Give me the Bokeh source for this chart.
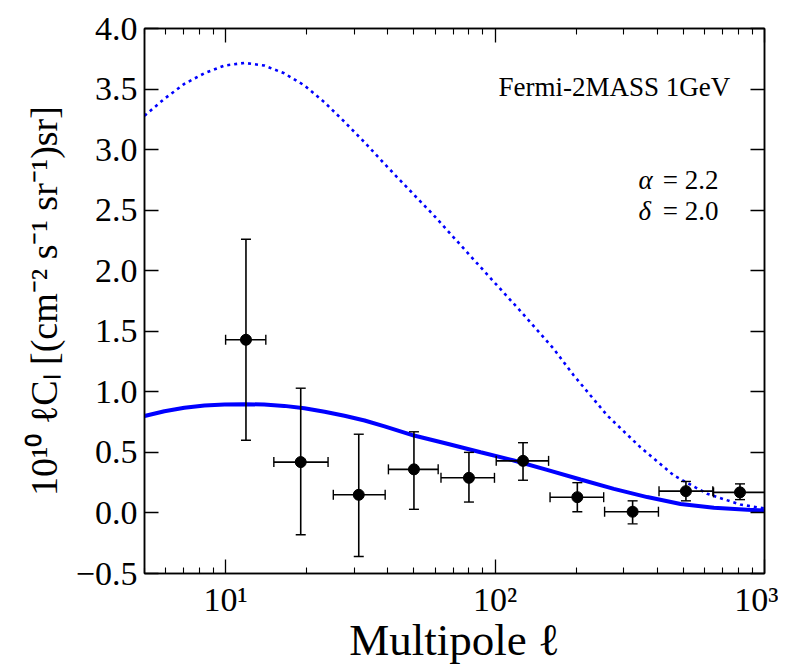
import math
from bokeh.plotting import figure
from bokeh.models import LogAxis, LinearAxis, FixedTicker, Range1d, Label
from bokeh.embed import file_html
from bokeh.resources import INLINE

# ---- data ----
model_ell = [5, 5.93, 7.03, 8.35, 9.91, 11.76, 13.9, 16.5, 19.6, 23.3, 27.6, 32.8, 38.9, 50,
             66.5, 88.4, 117.4, 156, 207.6, 276, 367, 488, 649, 863, 1000]
model_cl = [0.80, 0.84, 0.868, 0.887, 0.895, 0.898, 0.895, 0.884, 0.865, 0.835, 0.802, 0.763, 0.715, 0.639,
            0.571, 0.501, 0.433, 0.356, 0.276, 0.199, 0.131, 0.074, 0.042, 0.026, 0.020]

dot_ell = [5, 5.93, 7.03, 8.35, 9.91, 11.76, 13.9, 16.5, 19.6, 23.3, 27.6, 32.8, 38.6, 43.4, 59.3,
           88.3, 125, 165, 196, 261, 346, 461, 613, 814, 1000]
dot_cl = [3.28, 3.42, 3.543, 3.631, 3.694, 3.716, 3.694, 3.63, 3.53, 3.39, 3.23, 3.06, 2.89, 2.77, 2.456,
          2.03, 1.66, 1.355, 1.135, 0.804, 0.543, 0.309, 0.158, 0.069, 0.037]

pt_ell = [11.9, 19.0, 31.2, 50.0, 80.0, 127, 202, 324, 511, 811]
pt_cl = [1.43, 0.42, 0.15, 0.36, 0.29, 0.43, 0.13, 0.01, 0.18, 0.17]
pt_lo = [0.60, -0.18, -0.36, 0.03, 0.09, 0.27, 0.01, -0.09, 0.10, 0.11]
pt_hi = [2.26, 1.03, 0.65, 0.67, 0.50, 0.58, 0.25, 0.10, 0.26, 0.24]
pt_xlo = [10.0, 15.1, 25.1, 40.2, 63.0, 101, 160, 255, 406, 647]
pt_xhi = [14.1, 24.0, 39.1, 61.5, 99.5, 158, 253, 404, 643, 1030]

yticks = [-0.5, 0.0, 0.5, 1.0, 1.5, 2.0, 2.5, 3.0, 3.5, 4.0]
ytick_labels = ["\u22120.5", "0.0", "0.5", "1.0", "1.5", "2.0", "2.5", "3.0", "3.5", "4.0"]
xticks = [10, 100, 1000]
xtick_labels = ["10\u00b9", "10\u00b2", "10\u00b3"]

FONT = "Liberation Serif"
BLUE = "#0000ff"

p = figure(width=778, height=668, x_axis_type="log",
           x_range=Range1d(5, 1000), y_range=Range1d(-0.5, 4.0),
           output_backend="svg", toolbar_location=None,
           min_border_left=144, min_border_right=14,
           min_border_top=28, min_border_bottom=95)
p.xgrid.visible = False
p.ygrid.visible = False
p.outline_line_color = "black"
p.outline_line_width = 1.5

minor = [m * 10 ** d for d in range(0, 3) for m in range(2, 10)]
xt = FixedTicker(ticks=xticks, minor_ticks=minor)
yt = FixedTicker(ticks=yticks, minor_ticks=[])

def style(ax):
    ax.major_tick_in = 14
    ax.major_tick_out = 0
    ax.minor_tick_in = 6
    ax.minor_tick_out = 0
    ax.major_tick_line_width = 1.3
    ax.minor_tick_line_width = 1.1
    ax.axis_line_width = 1.5
    ax.major_tick_line_color = "black"
    ax.minor_tick_line_color = "black"
    ax.axis_line_color = "black"
    ax.major_label_text_font = FONT
    ax.major_label_text_font_size = "34px"
    ax.major_label_text_color = "black"
    ax.axis_label_text_color = "black"

xa = p.xaxis[0]
xa.ticker = xt
xa.major_label_overrides = dict(zip(xticks, xtick_labels))
style(xa)
xa.major_label_standoff = 7
xa.axis_label = "Multipole \u2113"
xa.axis_label_text_font = FONT
xa.axis_label_text_font_size = "45px"
xa.axis_label_text_font_style = "normal"
xa.axis_label_standoff = -6

ya = p.yaxis[0]
ya.ticker = yt
ya.major_label_overrides = dict(zip(yticks, ytick_labels))
style(ya)
ya.major_label_standoff = 7
ya.axis_label = "10\u00b9\u2070 \u2113C\u2097 [(cm\u207b\u00b2 s\u207b\u00b9 sr\u207b\u00b9)sr]"
ya.axis_label_text_font = FONT
ya.axis_label_text_font_size = "38px"
ya.axis_label_text_font_style = "normal"
ya.axis_label_standoff = 8

top = LogAxis(ticker=xt)
style(top)
top.major_label_overrides = {t: " " for t in xticks}
top.major_label_text_font_size = "8px"
top.major_label_standoff = 0
p.add_layout(top, "above")
right = LinearAxis(ticker=yt)
style(right)
right.major_label_overrides = {t: " " for t in yticks}
right.major_label_text_font_size = "8px"
right.major_label_standoff = 0
p.add_layout(right, "right")

# curves
p.line(dot_ell, dot_cl, line_color=BLUE, line_width=2.6, line_dash="3 4")
p.line(model_ell, model_cl, line_color=BLUE, line_width=4)

# error bars
p.segment(x0=pt_ell, y0=pt_lo, x1=pt_ell, y1=pt_hi, line_color="black", line_width=1.6)
p.segment(x0=pt_xlo, y0=pt_cl, x1=pt_xhi, y1=pt_cl, line_color="black", line_width=1.6)
p.scatter(x=pt_ell + pt_ell, y=pt_lo + pt_hi, marker="dash", size=10,
          line_color="black", line_width=1.4)
p.scatter(x=pt_xlo + pt_xhi, y=pt_cl + pt_cl, marker="dash", size=10, angle=math.pi / 2,
          line_color="black", line_width=1.4)
p.scatter(x=pt_ell, y=pt_cl, marker="circle", size=11, fill_color="black", line_color="black")

def lab(x, y, text, size, style="normal", align="left"):
    p.add_layout(Label(x=x, y=y, text=text, text_font=FONT, text_font_style=style,
                       text_font_size=size, text_color="black",
                       text_baseline="alphabetic", text_align=align))

lab(103, 3.513, "Fermi-2MASS 1GeV", "27px")
lab(341, 2.745, "\u03b1", "27px", "italic")
lab(419, 2.745, "= 2.2", "27px")
lab(341, 2.497, "\u03b4", "27px", "italic")
lab(419, 2.497, "= 2.0", "27px")

open("out.html", "w").write(file_html(p, INLINE))
